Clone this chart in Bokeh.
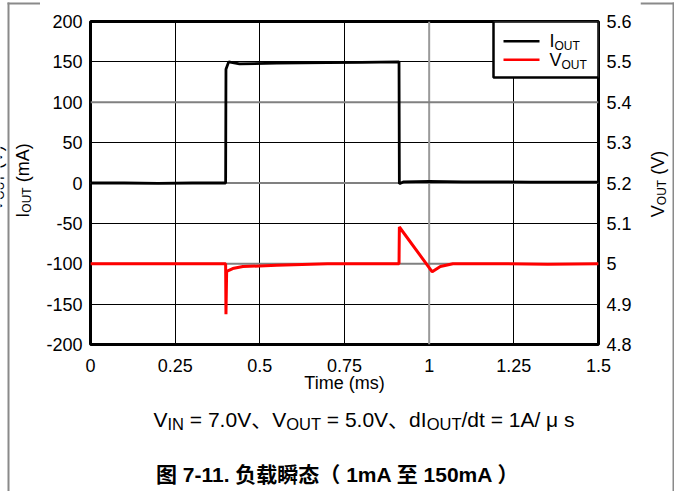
import math
from bokeh.plotting import figure
from bokeh.layouts import row, column
from bokeh.models import Range1d, LinearAxis, FixedTicker, CustomJSTickFormatter, Span
from bokeh.core.properties import value
from bokeh.embed import file_html
from bokeh.resources import INLINE

# ---------------- data ----------------
t_iout = [0.0, 0.10, 0.20, 0.30, 0.399, 0.400, 0.408, 0.44, 0.55, 0.70, 0.80, 0.911,
          0.912, 0.925, 1.0, 1.1, 1.2, 1.3, 1.4, 1.5]
i_out = [0.0, 0.0, -0.5, 0.0, 0.0, 141.0, 150.0, 147.5, 148.5, 149.0, 149.5, 150.0,
         -1.0, 1.5, 2.0, 1.5, 1.5, 1.0, 1.0, 1.0]

t_vout = [0.0, 0.2, 0.399, 0.400, 0.402, 0.42, 0.45, 0.55, 0.70, 0.80, 0.911, 0.912,
          1.009, 1.033, 1.07, 1.2, 1.35, 1.5]
v_out = [5.0, 5.0, 5.0, 4.875, 4.981, 4.988, 4.993, 4.996, 5.0, 5.0, 5.0, 5.091,
         4.980, 4.993, 5.0, 5.0, 4.999, 5.0]

x_ticks = [0, 0.25, 0.5, 0.75, 1, 1.25, 1.5]
iout_ticks = [-200, -150, -100, -50, 0, 50, 100, 150, 200]
vout_ticks = [4.8, 4.9, 5.0, 5.1, 5.2, 5.3, 5.4, 5.5, 5.6]
x_title = "Time (ms)"
iout_title = ("I", "OUT", " (mA)")
vout_title = ("V", "OUT", " (V)")
legend_items = [("I", "OUT", "black"), ("V", "OUT", "red")]
cond_pieces = [("V", 0), ("IN", 1), (" = 7.0V", 0), ("、", 0), ("V", 0), ("OUT", 1),
               (" = 5.0V", 0), ("、", 0), ("dI", 0), ("OUT", 1), ("/dt = 1A/", 0),
               (" μ ", 0), ("s", 0)]
fig_title = "图 7-11. 负载瞬态（ 1mA 至 150mA ）"

# ---------------- layout (page pixels) ----------------
PAGE_W, PAGE_H = 674, 491
LW, RW = 40, 34                 # side strips
CW = PAGE_W - LW - RW           # centre column width (600)
TOP_H = 5
FRAME_L, FRAME_T, FRAME_W, FRAME_H = 90, 21, 508, 323
MAIN_BOTTOM = 404
MAIN_H = MAIN_BOTTOM - TOP_H
BOT_H = PAGE_H - MAIN_BOTTOM
X0, X1 = x_ticks[0], x_ticks[-1]
Y0, Y1 = iout_ticks[0], iout_ticks[-1]
FONT = "Liberation Sans"
MIXFONT = "'Liberation Sans', 'Noto Sans CJK SC'"
BORDER = "#8a8a8a"
MID = 0.35      # distance baseline -> "middle" anchor, in em

AW = {' ': 278, '=': 584, '.': 278, '/': 278, '(': 333, ')': 333, '-': 333,
      'A': 667, 'I': 278, 'N': 722, 'O': 778, 'U': 722, 'T': 611, 'V': 667,
      'd': 556, 't': 278, 's': 500, 'm': 833, 'μ': 576}
for _c in "0123456789":
    AW[_c] = 556

def tw(s, size):
    return sum(AW.get(c, 1000) for c in s) * size / 1000.0

def mx(xp):   # page px -> main data x
    return X0 + (xp - FRAME_L) / FRAME_W * (X1 - X0)

def my(yp):   # page px -> main data y (left axis)
    return Y1 - (yp - FRAME_T) / FRAME_H * (Y1 - Y0)

def aux(x_left, y_top, w, h):
    f = figure(width=w, height=h, output_backend="svg", toolbar_location=None,
               x_range=Range1d(x_left, x_left + w), y_range=Range1d(-(y_top + h), -y_top),
               x_axis_location=None, y_axis_location=None, frame_align=False,
               min_border=0, min_border_left=0, min_border_right=0,
               min_border_top=0, min_border_bottom=0,
               background_fill_color="white", border_fill_color="white")
    f.grid.visible = False
    f.outline_line_color = None
    return f

def ptext(f, x, y, txt, size, font=FONT, angle=0.0, align="left", style="normal"):
    """x, y: page px of the text's baseline start (or rotated baseline)."""
    lead = len(txt) - len(txt.lstrip(" "))
    t = txt.strip(" ")
    if angle == 0.0:
        if align == "left":
            x += tw(" " * lead, size)
        ya = y - MID * size
        xa = x
    else:   # rotated 90 deg, reading upward; baseline is on the right side
        y -= tw(" " * lead, size)
        xa = x - MID * size
        ya = y
    f.text(x=[xa], y=[-ya], text=[t], text_font=value(font),
           text_font_size=value("%gpx" % size), text_baseline="middle",
           text_align=align, angle=angle, text_color="black", text_font_style=style)

def vtitle(f, parts, xb, ycenter, size=18, sub=12):
    main, s, rest = parts
    total = tw(main, size) + tw(s, sub) + tw(rest, size)
    y = ycenter + total / 2
    for txt, sz, xo in ((main, size, 0), (s, sub, 2.0), (rest, size, 0)):
        ptext(f, xb + xo, y, txt, sz, angle=math.pi / 2)
        y -= tw(txt, sz)

def bar(f, l, r, b, t):
    f.quad(left=[l], right=[r], bottom=[-b], top=[-t], fill_color=BORDER,
           line_color=None)

# ---------------- side / top / bottom strips ----------------
left = aux(0, 0, LW, PAGE_H)
bar(left, 7, 9, PAGE_H, 2)
bar(left, 7, LW, 4, 2)
vtitle(left, vout_title, 1.5, 178)        # cut-off residue of the neighbouring page
vtitle(left, iout_title, 29, 180)

right = aux(PAGE_W - RW, 0, RW, PAGE_H)
bar(right, 672, 674, PAGE_H, 2)
bar(right, PAGE_W - RW, 674, 4, 2)
vtitle(right, vout_title, 664, 183.5)

top = aux(LW, 0, CW, TOP_H)
bar(top, LW, LW + CW, 4, 2)

bottom = aux(LW, MAIN_BOTTOM, CW, BOT_H)
cx = 153
for txt, is_sub in cond_pieces:
    size = 16.5 if is_sub else 21
    ptext(bottom, cx, 429 if is_sub else 426, txt, size, font=MIXFONT)
    cx += tw(txt, size)
ptext(bottom, 337.5, 481, fig_title, 21, font=MIXFONT, align="center", style="bold")

# ---------------- main chart ----------------
p = figure(width=CW, height=MAIN_H, output_backend="svg", toolbar_location=None,
           x_range=Range1d(X0, X1), y_range=Range1d(Y0, Y1), frame_align=False,
           min_border_left=FRAME_L - LW, min_border_top=FRAME_T - TOP_H,
           min_border_right=LW + CW - FRAME_L - FRAME_W,
           min_border_bottom=MAIN_BOTTOM - FRAME_T - FRAME_H,
           background_fill_color="white", border_fill_color="white")
p.outline_line_color = "black"
p.outline_line_width = 3

p.extra_y_ranges = {"v": Range1d(vout_ticks[0], vout_ticks[-1])}
fmt = CustomJSTickFormatter(code="return tick.toString();")

def style_axis(ax, standoff):
    ax.axis_line_color = None
    ax.major_tick_line_color = None
    ax.minor_tick_line_color = None
    ax.major_tick_in = 0
    ax.major_tick_out = 0
    ax.minor_tick_in = 0
    ax.minor_tick_out = 0
    ax.major_label_text_font = FONT
    ax.major_label_text_font_size = "18px"
    ax.major_label_text_color = "black"
    ax.major_label_standoff = standoff
    ax.formatter = fmt

p.xaxis.ticker = FixedTicker(ticks=x_ticks)
p.yaxis.ticker = FixedTicker(ticks=iout_ticks)
style_axis(p.xaxis[0], 14)
style_axis(p.yaxis[0], 8)
p.xaxis.axis_label = x_title
p.xaxis.axis_label_text_font = FONT
p.xaxis.axis_label_text_font_size = "18px"
p.xaxis.axis_label_text_font_style = "normal"
p.xaxis.axis_label_text_color = "black"
p.xaxis.axis_label_standoff = -2

rax = LinearAxis(y_range_name="v", ticker=FixedTicker(ticks=vout_ticks))
style_axis(rax, 8)
p.add_layout(rax, "right")

p.xgrid.ticker = FixedTicker(ticks=[t for t in x_ticks if t not in (X0, X1, 1)])
p.ygrid.ticker = FixedTicker(ticks=[v for v in iout_ticks if v not in (Y0, Y1, -100, 0, 100)])
for g in (p.xgrid[0], p.ygrid[0]):
    g.grid_line_color = "black"
    g.grid_line_width = 1
p.add_layout(Span(location=1, dimension="height", line_color="#9a9a9a",
                  line_width=2, level="underlay"))
for v in (-100, 0, 100):
    p.add_layout(Span(location=v, dimension="width", line_color="#808080",
                      line_width=2, level="underlay"))

p.line(t_vout, v_out, y_range_name="v", line_color="red", line_width=3)
p.line(t_iout, i_out, line_color="black", line_width=2.8)

# legend
p.quad(left=mx(493), right=mx(598), top=my(21), bottom=my(77),
       fill_color="white", line_color="black", line_width=2.5)
for k, (main, sub, col) in enumerate(legend_items):
    ly = 40.7 + k * 18.6
    p.segment(x0=[mx(503)], x1=[mx(539)], y0=[my(ly)], y1=[my(ly)],
              line_color=col, line_width=2.5)
    xs = 549
    for txt, sz, yb, xo in ((main, 18, ly + 6.5, 0), (sub, 12, ly + 9, tw(main, 18))):
        p.text(x=[mx(xs + xo)], y=[my(yb - MID * sz)], text=[txt], text_font=value(FONT),
               text_font_size=value("%dpx" % sz), text_baseline="middle",
               text_align="left", text_color="black")

layout = row(left, column(top, p, bottom), right)
open("out.html", "w").write(file_html(layout, INLINE))
